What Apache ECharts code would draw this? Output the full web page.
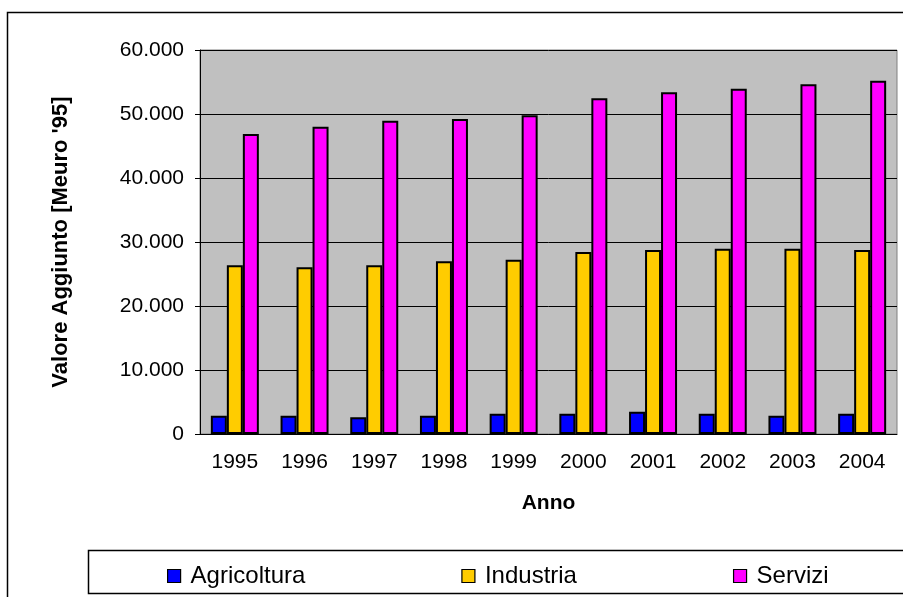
<!DOCTYPE html>
<html>
<head>
<meta charset="utf-8">
<script src="https://cdn.jsdelivr.net/npm/echarts@6/dist/echarts.min.js"></script>
<style>
  html, body { margin: 0; padding: 0; background: #fff; }
  #chart { width: 903px; height: 597px; }
</style>
</head>
<body>
<div id="chart"></div>
<script>
// anni e valori (Meuro '95)
const anni = ['1995', '1996', '1997', '1998', '1999', '2000', '2001', '2002', '2003', '2004']
const agricoltura = [2860, 2860, 2600, 2860, 3180, 3180, 3490, 3180, 2860, 3180]
const industria = [26360, 26050, 26360, 26980, 27240, 28440, 28750, 28960, 28960, 28750]
const servizi = [46880, 48020, 48960, 49220, 49790, 52450, 53390, 53960, 54640, 55210]
const yTicks = [0, 10000, 20000, 30000, 40000, 50000, 60000]

const FONT = 'Liberation Sans, Arial, sans-serif'

function fmt(v) {
  return String(v).replace(/\B(?=(\d{3})+(?!\d))/g, '.')
}

const chart = echarts.init(document.getElementById('chart'), null, { renderer: 'canvas' })

function barSeries(name, color, data) {
  return {
    name: name,
    type: 'bar',
    data: data,
    barWidth: 16,
    barGap: '0%',
    itemStyle: {
      color: color,
      borderColor: '#000',
      borderWidth: 2
    },
    emphasis: { disabled: true },
    animation: false
  }
}

chart.setOption({
  backgroundColor: '#fff',
  animation: false,
  textStyle: { fontFamily: FONT },
  grid: {
    left: 200,
    right: 6,
    top: 50,
    bottom: 163,
    show: true,
    backgroundColor: '#c0c0c0',
    borderColor: '#808080',
    borderWidth: 1
  },
  graphic: [
    {
      type: 'rect',
      shape: { x: 7.5, y: 12.5, width: 1000, height: 1000 },
      style: { fill: 'none', stroke: '#000', lineWidth: 1.5 },
      z: -10
    },
    {
      type: 'rect',
      shape: { x: 88.5, y: 550.5, width: 900, height: 43 },
      style: { fill: '#fff', stroke: '#000', lineWidth: 1.5 },
      z: 1
    }
  ],
  legend: {
    data: ['Agricoltura', 'Industria', 'Servizi'],
    left: 162,
    top: 559,
    itemWidth: 13,
    itemHeight: 13,
    itemGap: 156,
    icon: 'rect',
    itemStyle: { borderColor: '#000', borderWidth: 1.2 },
    textStyle: { fontFamily: FONT, fontSize: 24, color: '#000', padding: [0, 0, 0, 5] },
    selectedMode: false,
    z: 5
  },
  xAxis: [
    {
      type: 'category',
      data: anni,
      name: 'Anno',
      nameLocation: 'middle',
      nameGap: 59,
      nameTextStyle: { fontFamily: FONT, fontSize: 21, fontWeight: 'bold', color: '#000' },
      axisLine: { lineStyle: { color: '#000', width: 1 } },
      axisTick: { length: 7, lineStyle: { color: '#000' } },
      axisLabel: { fontFamily: FONT, fontSize: 21, color: '#000', margin: 18, interval: 0 },
      splitLine: { show: false }
    },
    {
      type: 'category',
      data: anni,
      position: 'bottom',
      axisLine: { show: false },
      axisTick: { alignWithLabel: true, length: 4, lineStyle: { color: '#000' } },
      axisLabel: { show: false },
      splitLine: { show: false }
    }
  ],
  yAxis: {
    type: 'value',
    min: yTicks[0],
    max: yTicks[yTicks.length - 1],
    interval: yTicks[1] - yTicks[0],
    name: "Valore Aggiunto [Meuro '95]",
    nameLocation: 'middle',
    nameGap: 128,
    nameTextStyle: { fontFamily: FONT, fontSize: 22, fontWeight: 'bold', color: '#000' },
    axisLine: { show: true, lineStyle: { color: '#000', width: 1 } },
    axisTick: { show: true, length: 5, lineStyle: { color: '#000' } },
    axisLabel: {
      fontFamily: FONT,
      fontSize: 21,
      color: '#000',
      margin: 16,
      formatter: fmt
    },
    splitLine: { show: true, lineStyle: { color: '#000', width: 1 } }
  },
  series: [
    barSeries('Agricoltura', '#0000ff', agricoltura),
    barSeries('Industria', '#ffcc00', industria),
    barSeries('Servizi', '#ff00ff', servizi)
  ]
})
</script>
</body>
</html>
